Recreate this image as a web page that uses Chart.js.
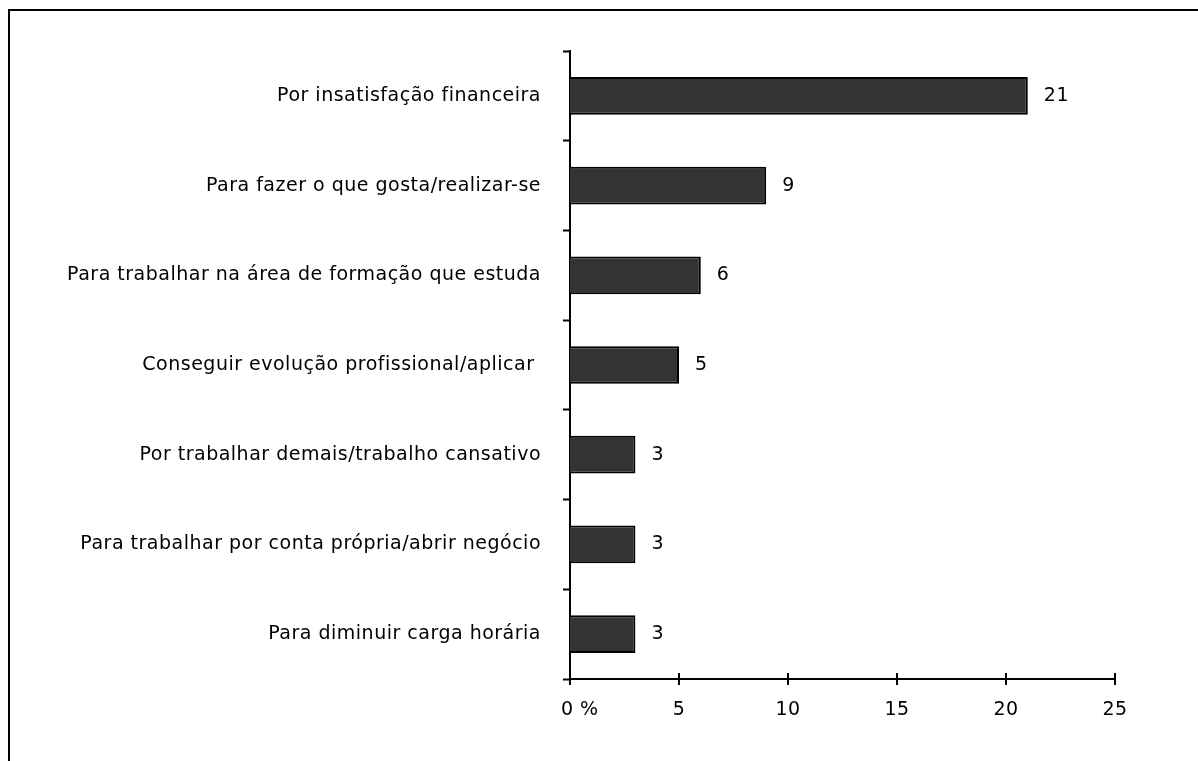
<!DOCTYPE html>
<html lang="pt">
<head>
    <meta charset="utf-8" />
    <title>Motivos</title>
    <script src="https://cdn.jsdelivr.net/npm/chart.js"></script>
    <style>
        html, body { margin: 0; padding: 0; background: #fff; }
        #wrap { position: relative; width: 1198px; height: 761px; overflow: hidden; }
        #frame { position: absolute; left: 8px; top: 9px; width: 1300px; height: 900px;
                 border-left: 2px solid #000; border-top: 2px solid #000; }
        #chart { position: absolute; left: 0; top: 0; }
    </style>
</head>
<body>
    <div id="wrap">
        <div id="frame"></div>
        <canvas id="chart" width="1198" height="761"></canvas>
    </div>
    <script>
        const categories = [
            'Por insatisfação financeira',
            'Para fazer o que gosta/realizar-se',
            'Para trabalhar na área de formação que estuda',
            'Conseguir evolução profissional/aplicar ',
            'Por trabalhar demais/trabalho cansativo',
            'Para trabalhar por conta própria/abrir negócio',
            'Para diminuir carga horária'
        ];
        const values = [21, 9, 6, 5, 3, 3, 3];
        const xTicks = [0, 5, 10, 15, 20, 25];

        const FONT = { family: '"DejaVu Sans", sans-serif', size: 19 };

        // the original lettering is a touch wider than DejaVu
        const spacing = {
            id: 'spacing',
            beforeDraw(chart) { chart.ctx.letterSpacing = '0.5px'; }
        };

        // value labels to the right of each bar
        const valueLabels = {
            id: 'valueLabels',
            afterDatasetsDraw(chart) {
                const ctx = chart.ctx;
                const meta = chart.getDatasetMeta(0);
                ctx.save();
                ctx.font = FONT.size + 'px ' + FONT.family;
                ctx.fillStyle = '#000';
                ctx.textAlign = 'left';
                ctx.textBaseline = 'middle';
                meta.data.forEach((bar, i) => {
                    ctx.fillText(String(values[i]), bar.x + 16, bar.y);
                });
                ctx.restore();
            }
        };

        // x tick marks crossing the axis line
        const crossTicks = {
            id: 'crossTicks',
            afterDraw(chart) {
                const ctx = chart.ctx;
                const x = chart.scales.x;
                const yPix = chart.chartArea.bottom;
                ctx.save();
                ctx.strokeStyle = '#000';
                ctx.lineWidth = 2;
                xTicks.forEach(v => {
                    const px = Math.round(x.getPixelForValue(v));
                    ctx.beginPath();
                    ctx.moveTo(px, yPix - 6);
                    ctx.lineTo(px, yPix + 6);
                    ctx.stroke();
                });
                ctx.restore();
            }
        };

        new Chart(document.getElementById('chart'), {
            type: 'bar',
            data: {
                labels: categories,
                datasets: [{
                    data: values,
                    backgroundColor: '#333333',
                    borderColor: '#000000',
                    borderWidth: 2,
                    categoryPercentage: 1,
                    barPercentage: 0.42
                }]
            },
            options: {
                indexAxis: 'y',
                responsive: false,
                animation: false,
                layout: { padding: { top: 51, right: 83, left: 0, bottom: 0 } },
                plugins: {
                    legend: { display: false },
                    tooltip: { enabled: false }
                },
                scales: {
                    x: {
                        min: 0,
                        max: 25,
                        afterBuildTicks(scale) { scale.ticks = xTicks.map(v => ({ value: v })); },
                        afterFit(scale) { scale.height = 82; },
                        grid: { display: false, drawTicks: false },
                        border: { display: true, color: '#000', width: 2 },
                        ticks: {
                            color: '#000',
                            font: FONT,
                            padding: 20,
                            maxRotation: 0,
                            callback: v => v === 0 ? '   0 %' : String(v)
                        }
                    },
                    y: {
                        afterFit(scale) { scale.width = 570; },
                        grid: {
                            offset: true,
                            drawOnChartArea: false,
                            drawTicks: true,
                            tickLength: 7,
                            tickWidth: 2,
                            tickColor: '#000'
                        },
                        border: { display: true, color: '#000', width: 2 },
                        ticks: {
                            color: '#000',
                            font: FONT,
                            padding: 22
                        }
                    }
                }
            },
            plugins: [spacing, valueLabels, crossTicks]
        });
    </script>
</body>
</html>
